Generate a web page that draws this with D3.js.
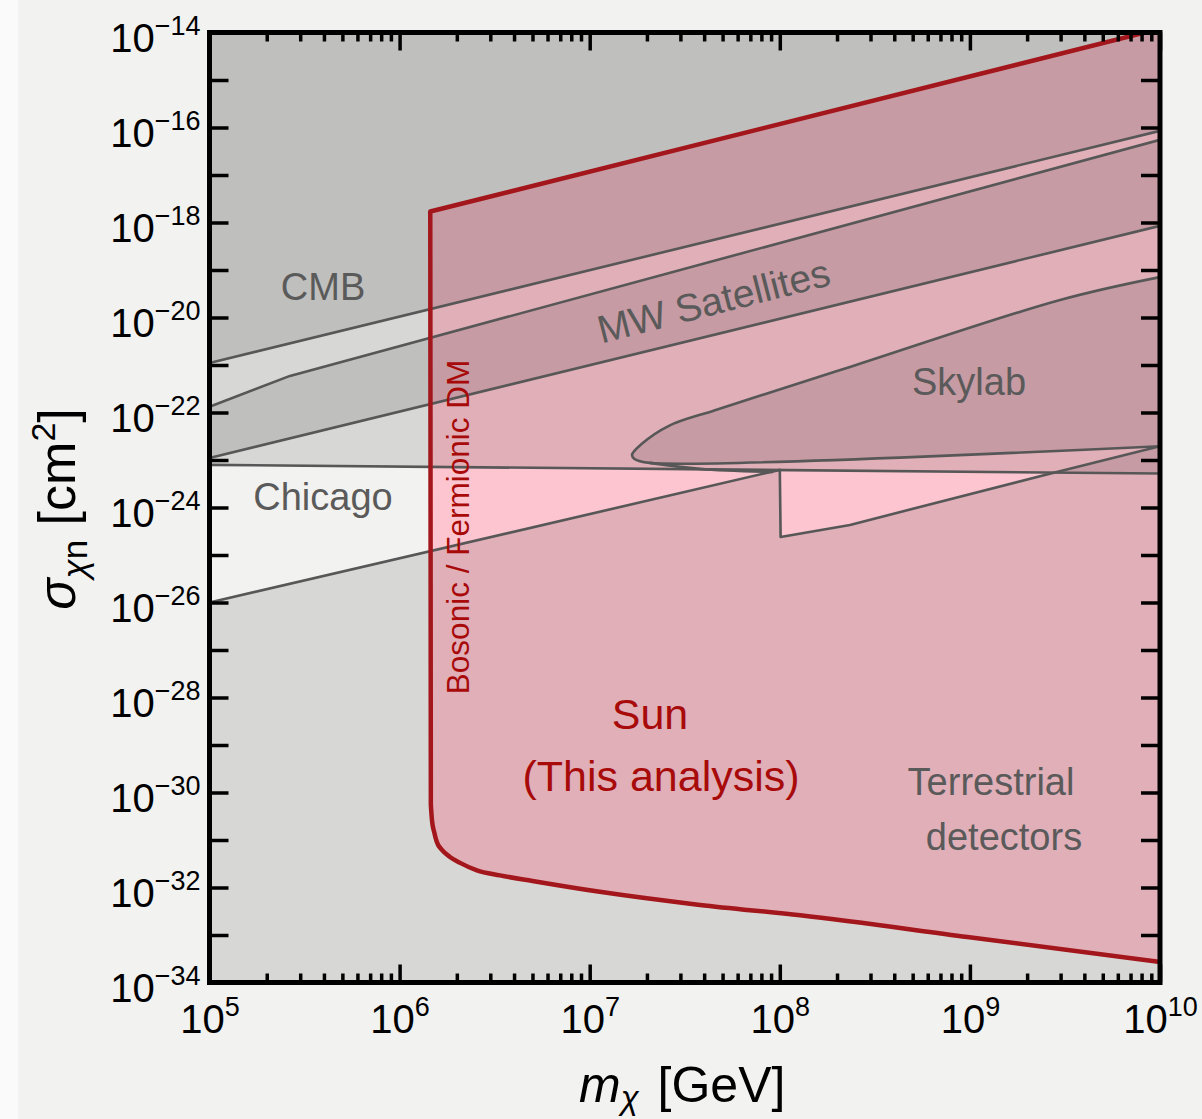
<!DOCTYPE html>
<html>
<head>
<meta charset="utf-8">
<script src="https://cdn.jsdelivr.net/npm/d3@7"></script>
<style>
  body { margin: 0; background: #fafafa; }
  svg { display: block; font-family: "Liberation Sans", Arial, sans-serif; }
</style>
</head>
<body>
<div id="container"></div>
<script>
// axis ticks
const massDecades = [1e5, 1e6, 1e7, 1e8, 1e9, 1e10];
const sigmaExponents = d3.range(-34, -13, 1);
const sigmaLabelExponents = d3.range(-34, -13, 2);

// bounds: [mass GeV, sigma cm^2]
const cmbLine = [[1e5, 1.1e-21], [1e10, 8.5e-17]];
const mwUpper = [[1e5, 1.32e-22], [2.65e5, 5.9e-22], [1e10, 5.5e-17]];
const mwLower = [[1e5, 1.1e-23], [1e10, 8.5e-19]];
const chicagoLine = [[1e5, 7.9e-24], [1e10, 5.2e-24]];
const terrestrialLine = [
  [1e5, 1.0e-26], [1.0e8, 6.2e-24], [1.01e8, 2.4e-25],
  [2.34e8, 4.3e-25], [2.6e9, 5.1e-24], [1e10, 1.95e-23],
];
const skylabUpper = [
  [1e10, 7.1e-20], [2.98e9, 2.34e-20], [2.34e8, 9.1e-22], [4.56e7, 1.12e-22],
  [2.61e7, 5.25e-23], [1.88e7, 2.19e-23], [1.67e7, 1.29e-23],
];
const skylabLower = [[1.72e7, 1.05e-23], [2.07e7, 8.7e-24], [1e10, 1.95e-23]];
const skylabTail = [[2.07e7, 8.7e-24], [3.8e7, 6.5e-24], [9.2e7, 5.6e-24]];
// sun: straight top edge and vertical edge, then the curved lower edge
const sunEdge = [[1e10, 1.2e-14], [1.45e6, 1.7e-18]];
const sunLower = [
  [1.46e6, 5.5e-31], [1.48e6, 2.6e-31], [1.52e6, 1.48e-31], [1.57e6, 9.1e-32],
  [1.67e6, 6.2e-32], [1.84e6, 4.4e-32], [2.08e6, 3.3e-32], [2.55e6, 2.3e-32],
  [3.37e6, 1.8e-32], [5.0e6, 1.37e-32], [1.13e7, 8.1e-33], [3.8e7, 4.3e-33],
  [1.28e8, 2.6e-33], [9.7e8, 9.1e-34], [1e10, 2.7e-34],
];

const width = 1202;
const height = 1119;

const svg = d3.select("#container").append("svg")
  .attr("width", width)
  .attr("height", height);

svg.append("rect").attr("x", 18).attr("y", 0)
  .attr("width", width - 18).attr("height", height).attr("fill", "#f2f2f0");

const x = d3.scaleLog().domain([1e5, 1e10]).range([209.5, 1160]);
const y = d3.scaleLog().domain([1e-34, 1e-14]).range([982.5, 32.5]);

svg.append("clipPath").attr("id", "plot")
  .append("rect")
  .attr("x", x.range()[0]).attr("y", y.range()[1])
  .attr("width", x.range()[1] - x.range()[0])
  .attr("height", y.range()[0] - y.range()[1]);

const plot = svg.append("g").attr("clip-path", "url(#plot)");

const line = d3.line().x((d) => x(d[0])).y((d) => y(d[1]));
const smooth = d3.line().x((d) => x(d[0])).y((d) => y(d[1]))
  .curve(d3.curveCatmullRom.alpha(0.5));
const monotone = d3.line().x((d) => x(d[0])).y((d) => y(d[1]))
  .curve(d3.curveMonotoneX);
const toTop = (pts) => pts.concat([[pts[pts.length - 1][0], 1e-14], [pts[0][0], 1e-14]]);
const toBottom = (pts) => pts.concat([[pts[pts.length - 1][0], 1e-34], [pts[0][0], 1e-34]]);

const sunPath = line(sunEdge) + monotone(sunLower).replace(/^M/, "L");

// sun region (drawn first, grey layers darken it)
plot.append("path").attr("d", sunPath + "Z").attr("fill", "#fcc5cf");

// excluded regions
const shade = "rgba(0,0,0,0.11)";
const skylab = skylabUpper.concat(skylabLower);
plot.append("path").attr("d", line(toTop(chicagoLine)) + "Z").attr("fill", shade);
plot.append("path").attr("d", line(toBottom(terrestrialLine)) + "Z").attr("fill", shade);
plot.append("path").attr("d", line(toTop(cmbLine)) + "Z").attr("fill", shade);
plot.append("path")
  .attr("d", line(mwUpper.concat(mwLower.slice().reverse())) + "Z")
  .attr("fill", shade);
plot.append("path").attr("d", smooth(skylab) + "Z").attr("fill", shade);

// boundaries
plot.selectAll(".bound")
  .data([cmbLine, mwUpper, mwLower, chicagoLine, terrestrialLine])
  .join("path")
  .attr("class", "bound")
  .attr("d", line);
plot.append("path").attr("class", "bound").attr("d", smooth(skylab));
plot.append("path").attr("class", "bound").attr("d", smooth(skylabTail));
plot.selectAll(".bound")
  .attr("fill", "none")
  .attr("stroke", "#575757")
  .attr("stroke-width", 2.6)
  .attr("stroke-linejoin", "round");

plot.append("path")
  .attr("d", sunPath)
  .attr("fill", "none")
  .attr("stroke", "#a3161b")
  .attr("stroke-width", 4.5)
  .attr("stroke-linejoin", "round");

// labels in the plot
const grey = "#5a5a5a";
const red = "#a80a0a";
function label(txt, px, py, size, color, rot) {
  svg.append("text")
    .attr("transform", `translate(${px},${py}) rotate(${rot || 0})`)
    .attr("text-anchor", "middle")
    .attr("font-size", size)
    .attr("fill", color)
    .text(txt);
}
label("CMB", 323, 300, 38, grey);
label("MW Satellites", 717, 314, 39, grey, -14.3);
label("Skylab", 969, 395, 38, grey);
label("Chicago", 323, 510, 38, grey);
label("Terrestrial", 991, 795, 38, grey);
label("detectors", 1004, 850, 38, grey);
label("Sun", 650, 729, 43, red);
label("(This analysis)", 661, 791, 43, red);
label("Bosonic / Fermionic DM", 469, 527, 31.5, red, -90);

// axes
function supLabel(sel, expOf) {
  sel.selectAll(".tick text").each(function (d) {
    const t = d3.select(this).text(null);
    const e = expOf(d);
    if (e === null) return;
    t.append("tspan").text("10");
    t.append("tspan").attr("dy", -17).attr("font-size", 27)
      .text(String(e).replace("-", "\u2212"));
  });
}

const minorMass = [];
massDecades.slice(0, -1).forEach((m) => d3.range(2, 10).forEach((k) => minorMass.push(m * k)));

const axisStyle = (g) => {
  g.select(".domain").remove();
  g.selectAll(".tick line").attr("stroke", "#000").attr("stroke-width", 3.5);
  g.selectAll(".tick text").attr("fill", "#000").attr("font-size", 40)
    .attr("font-family", "Liberation Sans, Arial, sans-serif");
};

// bottom
svg.append("g").attr("transform", `translate(0,${y.range()[0]})`)
  .call(d3.axisBottom(x).tickValues(minorMass).tickSize(-9).tickFormat(""))
  .call(axisStyle).call((g) => g.selectAll("text").remove());
svg.append("g").attr("transform", `translate(0,${y.range()[0]})`)
  .call(d3.axisBottom(x).tickValues(massDecades).tickSize(-18).tickPadding(22))
  .call(axisStyle)
  .call((g) => supLabel(g, (d) => Math.round(Math.log10(d))))
  .call((g) => g.selectAll(".tick text").attr("dy", "0.71em"));
// top
svg.append("g").attr("transform", `translate(0,${y.range()[1]})`)
  .call(d3.axisTop(x).tickValues(minorMass).tickSize(-9).tickFormat(""))
  .call(axisStyle);
svg.append("g").attr("transform", `translate(0,${y.range()[1]})`)
  .call(d3.axisTop(x).tickValues(massDecades).tickSize(-18).tickFormat(""))
  .call(axisStyle);
// left
const sigmaTicks = sigmaExponents.map((e) => Math.pow(10, e));
svg.append("g").attr("transform", `translate(${x.range()[0]},0)`)
  .call(d3.axisLeft(y).tickValues(sigmaTicks).tickSize(-19).tickPadding(9))
  .call(axisStyle)
  .call((g) => supLabel(g, (d) => {
    const e = Math.round(Math.log10(d));
    return sigmaLabelExponents.includes(e) ? e : null;
  }))
  .call((g) => g.selectAll(".tick text").attr("dy", "0.48em"));
// right
svg.append("g").attr("transform", `translate(${x.range()[1]},0)`)
  .call(d3.axisRight(y).tickValues(sigmaTicks).tickSize(-19).tickFormat(""))
  .call(axisStyle);

// frame
svg.append("rect")
  .attr("x", x.range()[0]).attr("y", y.range()[1])
  .attr("width", x.range()[1] - x.range()[0])
  .attr("height", y.range()[0] - y.range()[1])
  .attr("fill", "none").attr("stroke", "#000").attr("stroke-width", 5);

// axis titles
const xt = svg.append("text").attr("x", 579).attr("y", 1102)
  .attr("font-size", 50);
xt.append("tspan").attr("font-style", "italic").text("m");
xt.append("tspan").attr("font-style", "italic").attr("font-size", 33).attr("dy", 7).text("\u03c7");
xt.append("tspan").attr("dy", -7).attr("dx", 5).text(" [GeV]");

const yt = svg.append("text").attr("transform", "translate(75,509) rotate(-90)")
  .attr("text-anchor", "middle").attr("font-size", 52);
yt.append("tspan").attr("font-style", "italic").text("\u03c3");
const sub = yt.append("tspan").attr("font-size", 35).attr("dy", 12);
sub.append("tspan").attr("font-style", "italic").text("\u03c7");
sub.append("tspan").text("n");
yt.append("tspan").attr("dy", -12).text(" [cm");
yt.append("tspan").attr("font-size", 34).attr("dy", -20).text("2");
yt.append("tspan").attr("dy", 20).text("]");
</script>
</body>
</html>
